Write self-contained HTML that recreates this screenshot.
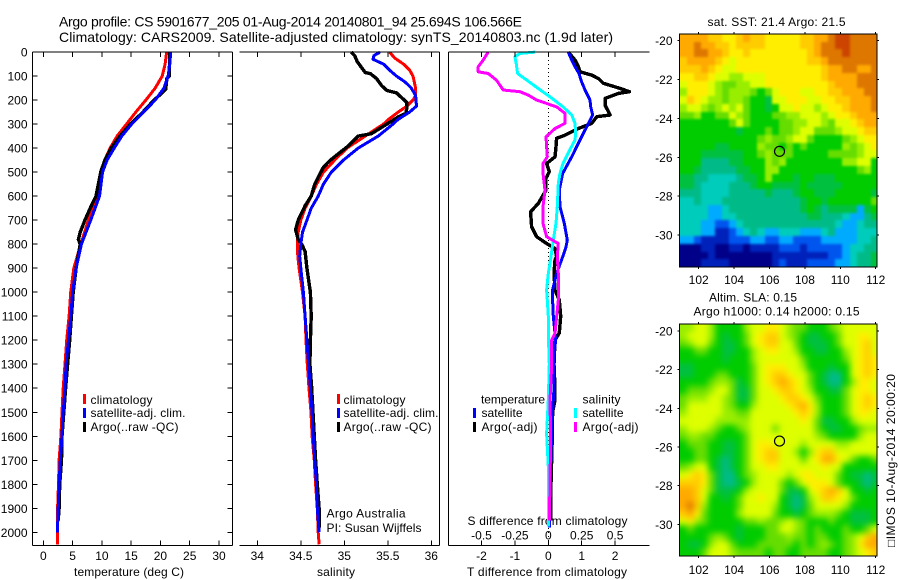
<!DOCTYPE html>
<html>
<head>
<meta charset="utf-8">
<title>Argo profile</title>
<style>
html,body{margin:0;padding:0;background:#fff;}
svg{display:block;font-family:"Liberation Sans",sans-serif;font-size:12px;fill:#000;}
text{fill:#000;}
</style>
</head>
<body>
<svg id="chart" xmlns="http://www.w3.org/2000/svg" width="900" height="580" viewBox="0 0 900 580">
<defs>
<clipPath id="sstClip"><rect x="679.5" y="34" width="197.5" height="233"/></clipPath>
<clipPath id="slaClip"><rect x="679.5" y="324" width="197.5" height="232"/></clipPath>
<filter id="sstBlur" filterUnits="userSpaceOnUse" x="650" y="10" width="250" height="280" color-interpolation-filters="sRGB"><feGaussianBlur stdDeviation="1.4"/></filter>
<filter id="slaBlur" filterUnits="userSpaceOnUse" x="650" y="300" width="250" height="280" color-interpolation-filters="sRGB"><feGaussianBlur stdDeviation="3.2"/></filter>
</defs>
<rect x="0" y="0" width="900" height="580" fill="#fff"/>
<text x="59" y="26.5" font-size="14" textLength="463">Argo profile: CS 5901677_205 01-Aug-2014 20140801_94 25.694S 106.566E</text>
<text x="59" y="42" font-size="14" textLength="554">Climatology: CARS2009. Satellite-adjusted climatology: synTS_20140803.nc (1.9d later)</text>
<text x="129" y="576" text-anchor="middle" textLength="110">temperature (deg C)</text>
<text x="336" y="576" text-anchor="middle" textLength="38">salinity</text>
<text x="547" y="576" text-anchor="middle" textLength="160">T difference from climatology</text>
<text x="467.5" y="525" textLength="160">S difference from climatology</text>
<text x="326.5" y="517.5" textLength="79">Argo Australia</text>
<text x="326.5" y="532" textLength="95">PI: Susan Wijffels</text>
<text x="776.5" y="26" text-anchor="middle" textLength="138">sat. SST: 21.4 Argo: 21.5</text>
<text x="709" y="301.5" textLength="88">Altim. SLA: 0.15</text>
<text x="693.5" y="315.5" textLength="166">Argo h1000: 0.14 h2000: 0.15</text>
<text transform="translate(895,547) rotate(-90)" textLength="173">□IMOS 10-Aug-2014 20:00:20</text>
<g id="layer"></g>
<g>
<rect x="83" y="394" width="3" height="10" fill="#ff0000"/>
<text x="90.5" y="404" textLength="62">climatology</text>
<rect x="83" y="408" width="3" height="10" fill="#0000ff"/>
<text x="90.5" y="417" textLength="95">satellite-adj. clim.</text>
<rect x="83" y="422" width="3" height="10" fill="#000"/>
<text x="90.5" y="431" textLength="88">Argo(..raw -QC)</text>
</g>
<g>
<rect x="337" y="394" width="3" height="10" fill="#ff0000"/>
<text x="343.5" y="404" textLength="62">climatology</text>
<rect x="337" y="408" width="3" height="10" fill="#0000ff"/>
<text x="343.5" y="417" textLength="95">satellite-adj. clim.</text>
<rect x="337" y="422" width="3" height="10" fill="#000"/>
<text x="343.5" y="431" textLength="88">Argo(..raw -QC)</text>
</g>
<g>
<text x="481" y="403.5" textLength="64">temperature</text>
<rect x="473" y="408" width="3" height="10" fill="#0000ff"/>
<text x="481.5" y="417" textLength="41">satellite</text>
<rect x="473" y="422" width="3" height="10" fill="#000"/>
<text x="481.5" y="431" textLength="56">Argo(-adj)</text>
<text x="582.5" y="403.5" textLength="38">salinity</text>
<rect x="574" y="408" width="3" height="10" fill="#00ffff"/>
<text x="582.5" y="417" textLength="41">satellite</text>
<rect x="574" y="422" width="3" height="10" fill="#ff00ff"/>
<text x="582.5" y="431" textLength="56">Argo(-adj)</text>
</g>
</svg>
<script>
const depthTicks=[0,100,200,300,400,500,600,700,800,900,1000,1100,1200,1300,1400,1500,1600,1700,1800,1900,2000];
const tempTicks=[0,5,10,15,20,25,30];
const salTicks=[34,34.5,35,35.5,36];
const salTickLabels=["34","34.5","35","35.5","36"];
const tDiffTicks=[-2,-1,0,1,2];
const sDiffTicks=[-0.5,-0.25,0,0.25,0.5];
const sDiffTickLabels=["-0.5","-0.25","0","0.25","0.5"];
const lonTicks=[102,104,106,108,110,112];
const latTicks=[-20,-22,-24,-26,-28,-30];

const climTempDepth=[0,50,100,150,200,250,300,350,400,450,500,600,700,800,900,1000,1100,1200,1300,1400,1500,1600,1700,1800,1900,2000,2050];
const climTemp=[21.06,20.8,20.3,19.1,17.5,15.8,14.2,12.6,11.4,10.5,9.85,9.3,7.7,6.4,5.2,4.67,4.4,4.0,3.7,3.4,3.2,3.0,2.7,2.6,2.45,2.4,2.4];
const satTempDepth=[0,50,100,150,200,250,300,350,400,450,500,600,700,800,900,1000,1100,1200,1300,1400,1500,1600,1700,1800,1900,2000];
const satTemp=[21.75,21.6,21.3,20.6,19.1,17.1,15.1,13.4,12.1,10.9,10.1,9.6,8.1,6.5,5.6,5.0,4.7,4.3,3.9,3.7,3.4,3.2,2.9,2.7,2.55,2.4];
const argoTempDepth=[0,100,110,155,165,200,250,300,350,400,450,500,600,650,700,750,780,800,900,1000,1100,1200,1300,1400,1500,1600,1700,1800,1900,1950];
const argoTemp=[21.6,21.5,21.1,20.9,20.5,18.9,17,14.9,13.1,11.6,10.5,9.8,9.0,8.0,7.1,6.3,6.0,6.3,5.6,5.1,4.8,4.5,4.15,3.8,3.5,3.2,3.1,2.8,2.7,2.55];

const climSalDepth=[0,25,50,75,100,150,180,200,225,250,280,300,350,400,450,500,550,600,650,700,750,800,850,900,1000,1100,1200,1300,1400,1500,1600,1700,1800,1900,2000,2050];
const climSal=[35.52,35.58,35.68,35.75,35.79,35.82,35.82,35.79,35.72,35.62,35.51,35.45,35.24,35.03,34.89,34.76,34.68,34.62,34.55,34.5,34.47,34.46,34.465,34.48,34.52,34.55,34.56,34.575,34.594,34.617,34.63,34.655,34.67,34.69,34.7,34.71];
const satSalDepth=[0,15,30,50,75,100,125,150,180,225,250,280,300,350,400,450,500,550,600,650,700,750,800,850,900,1000,1100,1200,1300,1400,1500,1600,1700,1800,1900,2000];
const satSal=[35.41,35.34,35.33,35.45,35.52,35.6,35.7,35.77,35.82,35.83,35.75,35.62,35.56,35.39,35.16,34.99,34.85,34.76,34.7,34.62,34.57,34.52,34.5,34.487,34.5,34.53,34.55,34.57,34.59,34.61,34.63,34.644,34.66,34.68,34.69,34.71];
const argoSalDepth=[0,15,40,60,85,90,110,140,160,170,190,210,225,255,270,300,340,350,390,450,480,550,600,640,700,740,780,800,830,900,1000,1100,1200,1300,1400,1500,1600,1700,1800,1900,1980];
const argoSal=[35.08,35.12,35.15,35.19,35.24,35.3,35.37,35.43,35.49,35.6,35.66,35.72,35.72,35.71,35.62,35.49,35.31,35.16,35.05,34.84,34.76,34.66,34.62,34.55,34.47,34.44,34.47,34.51,34.55,34.57,34.61,34.62,34.61,34.605,34.625,34.64,34.655,34.67,34.69,34.71,34.71];

const satTDiffDepth=[0,33,61,89,117,158,200,228,262,297,366,436,505,575,644,713,783,811,852,922,991,1033,1100,1200,1300,1400,1500,1600,1800,1980];
const satTDiff=[0.6,0.7,0.8,0.92,0.98,1.1,1.25,1.27,1.33,1.2,0.95,0.7,0.43,0.33,0.35,0.48,0.57,0.53,0.43,0.25,0.13,0.13,0.15,0.22,0.15,0.17,0.13,0.1,0.05,0.03];
const argoTDiffDepth=[0,33,61,82,96,110,130,151,165,172,193,221,262,269,297,318,346,359,394,436,464,498,526,575,630,665,727,769,797,818,852,866,922,991,1033,1100,1170,1200,1300,1400,1450,1500,1600,1800,1950];
const argoTDiff=[0.6,0.8,0.9,0.95,1.3,1.5,1.65,2.15,2.43,2.1,1.7,1.7,1.85,1.45,1.3,0.9,0.5,0.25,0.23,0.2,-0.05,0.03,-0.07,-0.07,-0.3,-0.53,-0.5,-0.35,-0.05,0.2,0.25,0.2,0.17,0.2,0.33,0.37,0.33,0.2,0.17,0.2,0.2,0.13,0.12,0.08,0.08];
const satSDiffDepth=[0,6,19,47,89,117,158,186,228,262,297,339,366,408,464,505,547,644,713,783,852,922,991,1033,1100,1170,1300,1449,1588,1726,1976];
const satSDiff=[-0.1,-0.2125,-0.25,-0.24,-0.23,-0.16,-0.06,0.0125,0.11,0.175,0.2,0.205,0.2,0.16,0.11,0.0875,0.075,0.0675,0.0575,0.0375,0.02,0,-0.0125,-0.0075,0,0,0.0075,0,-0.0125,0,0];
const argoSDiffDepth=[0,33,61,82,89,117,158,165,179,200,228,255,297,318,353,394,436,464,505,575,644,713,769,797,852,922,1033,1171,1200,1310,1449,1600,1800,1950];
const argoSDiff=[-0.45,-0.4875,-0.525,-0.525,-0.45,-0.3875,-0.3375,-0.2125,-0.15,-0.0875,0.0625,0.125,0.125,0.05,-0.0175,-0.0125,-0.0075,-0.04,-0.04,-0.025,-0.04,-0.04,-0.0125,0.075,0.0675,0.075,0.075,0.05,0.025,0.025,0.0125,0.0175,0.0125,0.0075];

const mapPalette=["#000088","#0022bb","#0055ee","#00aaff","#00ccbb","#00bb88","#00c040","#00cc00","#66dd00","#99ee00","#ddff00","#ffee00","#ffcc00","#ffaa00","#dd7700","#cc4400"];
const sstGrid=[
[13,13,13,13,12,12,11,11,12,13,12,12,11,11,11,11,11,12,12,13,13,14,15,15,14,14,14,14],
[13,13,14,13,13,12,12,11,12,12,12,12,11,11,11,11,11,12,12,13,14,14,15,15,14,14,14,14],
[13,13,14,14,13,13,12,11,11,12,11,11,11,11,11,11,11,11,12,13,14,14,14,15,14,14,14,14],
[12,13,13,13,13,12,11,10,11,11,11,11,11,11,11,11,11,11,12,12,13,14,14,14,14,14,14,14],
[12,12,12,13,12,11,10,10,11,11,11,11,11,11,11,11,11,11,11,11,12,13,13,14,14,13,13,14],
[11,11,12,12,11,10,10,9,9,10,10,10,11,11,11,11,11,11,11,11,12,13,13,13,13,14,14,14],
[10,11,11,11,10,9,8,8,9,9,10,10,11,11,11,11,11,11,11,11,11,12,13,13,13,14,14,14],
[9,11,11,11,10,9,8,9,9,9,8,7,8,10,11,11,11,10,10,11,11,12,12,13,13,13,14,14],
[10,12,11,10,9,9,8,9,9,8,7,7,6,10,10,11,11,11,10,10,11,11,12,12,13,13,13,14],
[9,10,10,9,8,9,10,9,10,8,7,7,6,7,10,10,11,10,10,9,10,11,11,12,13,13,13,14],
[8,8,9,7,7,8,8,10,9,8,7,7,7,8,8,9,9,10,10,10,9,10,11,11,12,13,13,13],
[7,7,7,7,7,7,7,8,10,8,7,7,7,7,8,8,9,9,10,10,9,8,10,10,11,12,13,13],
[7,7,7,7,7,7,7,7,6,7,7,7,8,7,8,8,9,10,10,8,8,8,9,10,10,11,12,12],
[7,7,7,7,7,7,7,7,7,7,7,8,9,8,8,9,10,10,8,7,7,7,7,8,9,10,11,11],
[7,7,7,7,7,6,6,7,7,7,7,9,8,8,7,8,7,8,7,7,7,7,7,9,8,9,10,11],
[7,7,7,6,6,6,6,6,6,7,7,8,9,8,8,8,7,7,7,7,7,8,8,8,8,9,10,10],
[7,7,7,5,5,5,5,6,6,7,7,7,9,8,9,7,7,7,7,7,7,7,7,9,9,10,10,7],
[7,7,6,5,5,5,5,5,6,6,7,7,9,9,7,7,7,7,7,7,7,7,7,7,7,8,9,7],
[6,6,5,5,4,4,4,4,5,6,6,7,9,7,7,7,6,7,7,6,6,6,7,7,7,7,7,7],
[6,6,5,4,4,4,4,5,5,5,6,7,7,6,6,6,6,7,6,6,6,6,6,7,7,7,7,7],
[5,5,5,4,4,4,4,5,5,5,5,5,6,5,5,5,6,7,7,6,6,6,7,7,7,7,7,6],
[4,4,5,4,4,4,5,5,5,5,5,5,5,5,5,5,5,6,7,7,6,7,7,7,7,7,7,8],
[4,4,4,4,3,3,4,5,5,5,5,5,5,5,5,5,5,6,7,6,5,6,6,6,6,3,6,7],
[4,4,4,4,3,3,4,4,5,5,5,5,5,5,5,5,5,5,6,6,5,5,5,4,3,3,5,6],
[4,4,4,3,3,2,2,3,4,5,5,5,5,5,5,5,5,5,5,5,5,5,4,3,3,4,5,5],
[4,4,4,3,3,1,1,2,3,4,5,4,3,3,4,4,4,3,3,3,4,5,3,3,3,4,4,4],
[3,3,2,1,1,1,1,2,2,2,3,3,2,2,3,3,2,2,2,2,3,3,3,3,3,4,4,5],
[0,0,0,1,1,0,0,1,1,0,1,1,1,1,2,2,2,1,2,2,2,2,2,3,4,4,5,5],
[0,0,0,0,1,0,0,0,0,0,0,0,0,1,1,1,1,1,1,1,1,2,2,3,4,5,5,6],
[0,0,0,1,1,1,1,0,0,0,0,0,0,1,2,1,1,1,2,2,2,2,3,3,4,5,5,6]
];
const slaGrid=[
[9,9,10,10,9,7,7,7,7,9,10,10,11,11,10,9,8,8,7,7,7,8,9,10,10,10,10,10],
[9,10,10,10,9,7,6,7,7,8,10,11,12,12,10,9,8,7,6,6,7,7,8,10,10,11,11,10],
[8,9,10,10,8,7,6,6,7,8,10,11,12,12,10,10,8,7,6,6,6,7,8,10,10,11,12,10],
[7,7,8,8,7,7,6,6,7,7,9,10,11,11,10,10,9,7,7,6,6,7,7,9,10,11,12,10],
[7,7,7,7,7,7,6,7,7,7,9,10,10,10,10,10,10,8,7,7,7,7,7,8,10,11,12,11],
[6,6,7,7,7,7,7,7,7,7,8,10,11,11,11,10,10,9,7,7,7,6,7,7,10,11,12,11],
[6,6,7,7,7,8,8,7,7,7,8,10,11,12,12,11,10,10,8,7,6,5,5,7,10,11,12,11],
[7,7,7,7,8,9,9,8,6,7,8,10,11,12,13,12,11,10,8,7,6,5,5,7,9,11,11,10],
[7,8,8,8,9,10,10,8,6,6,8,10,10,11,12,12,11,10,9,7,7,6,6,8,10,11,11,10],
[8,9,9,9,10,10,9,8,6,6,8,10,10,10,11,12,12,11,10,8,7,7,7,8,10,11,12,11],
[8,10,10,10,10,10,9,8,7,7,9,10,10,10,10,11,12,13,11,9,7,7,7,8,10,11,12,11],
[9,10,10,10,10,10,9,9,8,8,10,10,10,10,10,10,11,12,11,9,7,7,7,8,10,11,11,10],
[10,10,10,10,10,9,9,9,9,9,10,10,10,10,10,10,10,11,10,8,6,6,7,7,9,10,10,10],
[9,10,10,10,9,8,7,7,8,9,10,10,10,8,10,10,10,10,10,8,7,6,6,7,7,8,9,9],
[8,9,9,8,8,7,7,7,7,8,10,10,10,10,10,10,10,10,10,9,8,7,7,7,7,9,10,10],
[7,8,8,8,7,7,6,6,7,8,10,11,11,10,10,10,10,9,10,10,10,10,9,9,10,10,10,10],
[7,7,8,8,7,7,6,6,7,8,10,11,12,12,10,10,9,7,9,11,12,12,10,10,10,10,10,10],
[7,7,8,8,7,6,5,6,7,8,10,11,12,12,10,10,10,8,10,11,13,13,11,10,8,7,7,8],
[8,9,10,10,7,6,5,6,7,8,10,10,11,11,10,10,10,10,10,10,11,10,10,7,7,7,7,7],
[10,11,12,11,8,6,5,5,7,8,9,10,10,10,10,9,10,11,11,10,10,10,8,7,6,6,5,6],
[12,12,12,11,8,6,5,5,6,7,9,10,10,10,8,7,8,10,11,11,11,10,8,7,7,6,5,6],
[13,13,12,10,8,6,6,6,7,9,10,10,10,10,8,6,6,7,10,11,12,13,12,10,7,7,6,7],
[13,13,12,10,7,7,6,7,8,10,10,11,10,10,7,6,5,6,9,10,12,12,11,10,8,7,7,7],
[13,14,12,9,7,7,7,7,8,10,10,10,10,9,7,6,5,6,8,10,10,10,10,9,7,7,7,7],
[12,13,11,8,7,7,7,7,9,10,10,10,10,8,7,7,6,7,8,9,9,9,8,7,6,6,6,7],
[10,11,9,8,7,7,7,7,7,8,8,9,8,8,9,10,9,8,7,7,7,8,7,7,6,6,6,7],
[7,8,7,7,7,7,7,7,6,7,7,7,8,8,10,10,9,8,7,8,7,7,7,8,7,7,8,10],
[7,7,7,7,8,9,8,7,6,7,7,7,8,8,8,9,8,8,7,8,8,7,7,8,9,10,12,13],
[7,6,6,7,9,10,10,8,7,7,7,8,8,8,8,8,7,8,7,8,9,8,7,8,9,11,13,13],
[7,7,7,8,10,10,10,9,8,8,8,8,7,8,8,7,7,8,8,8,8,7,7,8,9,10,11,12]
];
const argoLon=[106.566];
const argoLat=[-25.694];
const gridWestLon=[100.92];
const gridNorthLat=[-19.65];
const gridStepDeg=[0.4];

const NS='http://www.w3.org/2000/svg';
const layer=document.getElementById('layer');
function mk(tag,attrs,parent){
  const el=document.createElementNS(NS,tag);
  for(const k in attrs){el.setAttribute(k,attrs[k]);}
  (parent||layer).appendChild(el);
  return el;
}
const TOP=52,BOTTOM=545.5;
function depthY(d){return 52.1+d*0.2401;}
function tempX(t){return 43.3+t*5.857;}
function salX(s){return 257.3+(s-34)*87;}
function tDiffX(t){return 548.3+t*33.4;}
function sDiffX(s){return 548.3+s*133.6;}
function lonX(l){return 698.7+(l-102)*17.7;}
function sstLatY(l){return 40.7+(-20-l)*19.43;}
function slaLatY(l){return 331+(-20-l)*19.33;}

function line(x1,y1,x2,y2,w){
  const l=mk('line',{x1:x1,y1:y1,x2:x2,y2:y2,stroke:'#000','stroke-width':w||1,'shape-rendering':'crispEdges'});
  return l;
}
function label(x,y,s,anchor,lenPerChar){
  const t=mk('text',{x:x,y:y,'text-anchor':anchor||'middle'});
  t.textContent=s;
  return t;
}
function drawSeries(depths,vals,xf,color,width,name){
  const pts=depths.map(function(d,i){return xf(vals[i]).toFixed(1)+','+depthY(d).toFixed(1);}).join(' ');
  const p=mk('polyline',{points:pts,fill:'none',stroke:color,'stroke-width':width,'stroke-linejoin':'round','shape-rendering':'crispEdges'});
  
  
}

/* heatmaps */
function drawMap(grid,latY,name,clipId,blurId){
  const clipGroup=mk('g',{'clip-path':'url(#'+clipId+')'});
  
  
  const blurGroup=mk('g',{filter:'url(#'+blurId+')'},clipGroup);
  
  
  const lastRow=grid.length-1;
  grid.forEach(function(row,r){
    const lastCol=row.length-1;
    row.forEach(function(level,c){
      const west=gridWestLon[0]+c*gridStepDeg[0];
      const north=gridNorthLat[0]-r*gridStepDeg[0];
      let x0=Math.round(lonX(west)),x1=Math.round(lonX(west+gridStepDeg[0]));
      let y0=Math.round(latY(north)),y1=Math.round(latY(north-gridStepDeg[0]));
      if(c===0){x0-=12;}
      if(c===lastCol){x1+=12;}
      if(r===0){y0-=12;}
      if(r===lastRow){y1+=12;}
      const cell=mk('rect',{x:x0,y:y0,width:x1-x0,height:y1-y0,fill:mapPalette[level],'shape-rendering':'crispEdges'},blurGroup);
      
      
    });
  });
}
drawMap(sstGrid,sstLatY,'sst-map','sstClip','sstBlur');
drawMap(slaGrid,slaLatY,'sla-map','slaClip','slaBlur');

function mapFrame(latY,name,top,bottom,xLabelY){
  const L=679.5,R=877;
  const f=mk('rect',{x:L,y:top,width:R-L,height:bottom-top,fill:'none',stroke:'#000','stroke-width':1,'shape-rendering':'crispEdges'});
  
  
  lonTicks.forEach(function(v){
    const x=lonX(v);
    const a=line(x,top-2,x,top);
    
    
    const b=line(x,bottom,x,bottom+2);
    
    
    const t=label(x,xLabelY,String(v));
    
    
  });
  latTicks.forEach(function(v){
    const y=latY(v);
    const a=line(L-2,y,L,y);
    
    
    const b=line(R,y,R+2,y);
    
    
    const t=label(672.5,y+4.5,String(v),'end');
    
    
  });
  const c=mk('circle',{cx:lonX(argoLon[0]),cy:latY(argoLat[0]),r:5,fill:'none',stroke:'#000','stroke-width':1.2});
  
  
}
mapFrame(sstLatY,'sst-map',34,267,284);
mapFrame(slaLatY,'sla-map',324,556,574);

/* profile axes */
function xAxis(ticks,labels,xf,name,left,right,drawLabels){
  const topLine=line(left,TOP,right,TOP);
  
  
  const botLine=line(left,BOTTOM,right,BOTTOM);
  
  
  ticks.forEach(function(v,i){
    const x=xf(v);
    const a=line(x,TOP,x,TOP+5);
    
    
    const b=line(x,BOTTOM-5,x,BOTTOM);
    
    
    const t=label(x,560,labels[i]);
    
    
  });
}
/* zero line of difference panel */
const zero=mk('line',{x1:tDiffX(0),y1:TOP,x2:tDiffX(0),y2:BOTTOM,stroke:'#000','stroke-width':1,'stroke-dasharray':'1 3','shape-rendering':'crispEdges'});



drawSeries(climTempDepth,climTemp,tempX,'#ff0000',3,'temperature-climatology-line');
drawSeries(argoTempDepth,argoTemp,tempX,'#000000',3.4,'temperature-argo-line');
drawSeries(satTempDepth,satTemp,tempX,'#0000ff',3,'temperature-satellite-line');

drawSeries(climSalDepth,climSal,salX,'#ff0000',3,'salinity-climatology-line');
drawSeries(argoSalDepth,argoSal,salX,'#000000',3.4,'salinity-argo-line');
drawSeries(satSalDepth,satSal,salX,'#0000ff',3,'salinity-satellite-line');

drawSeries(argoTDiffDepth,argoTDiff,tDiffX,'#000000',3.4,'t-difference-argo-line');
drawSeries(satTDiffDepth,satTDiff,tDiffX,'#0000ff',3,'t-difference-satellite-line');
drawSeries(satSDiffDepth,satSDiff,sDiffX,'#00ffff',3,'s-difference-satellite-line');
drawSeries(argoSDiffDepth,argoSDiff,sDiffX,'#ff00ff',3,'s-difference-argo-line');

xAxis(tempTicks,tempTicks.map(String),tempX,'temperature-axis',32.5,232.5);
xAxis(salTicks,salTickLabels,salX,'salinity-axis',239.5,439.5);
xAxis(tDiffTicks,tDiffTicks.map(String),tDiffX,'t-difference-axis',448.5,649.5);

[32.5,232.5,439.5,448.5].forEach(function(x){
  const s=line(x,TOP,x,BOTTOM);
  
  
});
depthTicks.forEach(function(d){
  const y=depthY(d);
  const a=line(32.5,y,37.5,y);
  
  
  const b=line(227.5,y,232.5,y);
  
  
  const t=label(27.5,y+4.5,String(d),'end');
  
  
});
sDiffTicks.forEach(function(v,i){
  const t=label(sDiffX(v),539.5,sDiffTickLabels[i]);
  
  
});
</script>
</body>
</html>
